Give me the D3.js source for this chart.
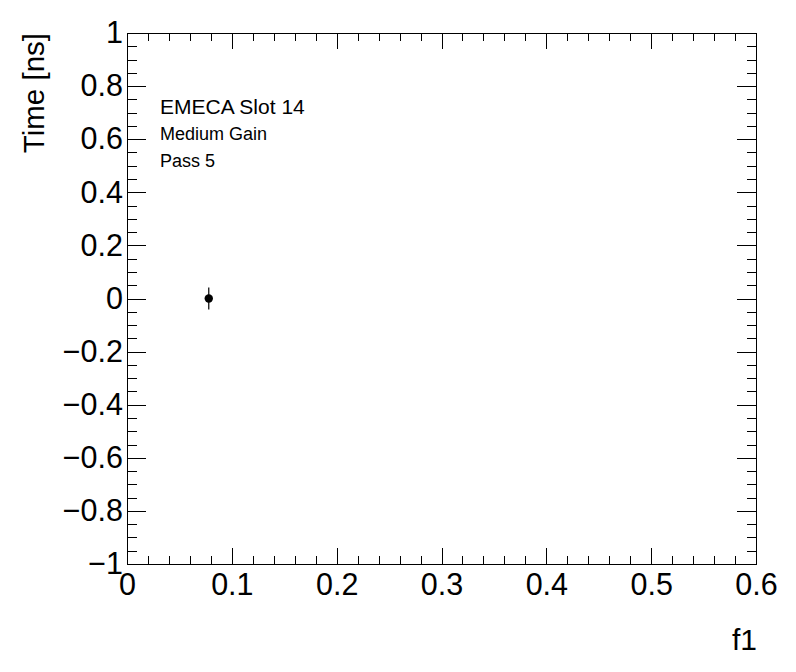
<!DOCTYPE html>
<html>
<head>
<meta charset="utf-8">
<script src="https://cdn.jsdelivr.net/npm/d3@7"></script>
<style>
  html, body { margin: 0; padding: 0; background: #fff; }
  svg { display: block; font-family: "Liberation Sans", Arial, Helvetica, sans-serif; }
</style>
</head>
<body>
<svg id="chart" width="796" height="672"></svg>
<script>
// ---- data ----
const xValues = [0.078];
const yValues = [0.0];
const yErrors = [0.041];

const xDomain = [0, 0.6];
const yDomain = [-1, 1];
const xMajorTicks = [0, 0.1, 0.2, 0.3, 0.4, 0.5, 0.6];
const xTickLabels = ["0", "0.1", "0.2", "0.3", "0.4", "0.5", "0.6"];
const yMajorTicks = [-1, -0.8, -0.6, -0.4, -0.2, 0, 0.2, 0.4, 0.6, 0.8, 1];
const yTickLabels = ["\u22121", "\u22120.8", "\u22120.6", "\u22120.4", "\u22120.2", "0", "0.2", "0.4", "0.6", "0.8", "1"];
const xMinorStep = 0.02;
const yMinorStep = 0.05;

const xTitle = "f1";
const yTitle = "Time [ns]";
const annotations = ["EMECA Slot 14", "Medium Gain", "Pass 5"];

// ---- layout ----
const svg = d3.select("#chart");
const L = 127, R = 756, T = 33, B = 564;

const x = d3.scaleLinear().domain(xDomain).range([L, R]);
const y = d3.scaleLinear().domain(yDomain).range([B, T]);

const xMinor = d3.range(Math.round((xDomain[1]-xDomain[0]) / xMinorStep) + 1).map(i => +(xDomain[0] + i * xMinorStep).toFixed(4));
const yMinor = d3.range(Math.round((yDomain[1]-yDomain[0]) / yMinorStep) + 1).map(i => +(yDomain[0] + i * yMinorStep).toFixed(4));

const xMajLen = 16, xMinLen = 8, yMajLen = 19, yMinLen = 9.5;
const labelSize = 30.5;

function styleAxis(g) {
  g.select(".domain").remove();
  g.selectAll(".tick line").attr("stroke", "#000").attr("stroke-width", 1).attr("shape-rendering", "crispEdges");
  g.selectAll(".tick text").attr("fill", "#000").attr("font-size", labelSize).attr("font-family", "\"Liberation Sans\", Arial, Helvetica, sans-serif");
}

const xLabelMap = new Map(xMajorTicks.map((v, i) => [v, xTickLabels[i]]));
const yLabelMap = new Map(yMajorTicks.map((v, i) => [v, yTickLabels[i]]));

// bottom
svg.append("g").attr("transform", `translate(0,${B})`)
  .call(d3.axisBottom(x).tickValues(xMinor).tickSize(-xMinLen).tickFormat("")).call(styleAxis);
svg.append("g").attr("transform", `translate(0,${B})`)
  .call(d3.axisBottom(x).tickValues(xMajorTicks).tickSize(-xMajLen).tickPadding(9).tickFormat(d => xLabelMap.get(d))).call(styleAxis);
// top
svg.append("g").attr("transform", `translate(0,${T})`)
  .call(d3.axisTop(x).tickValues(xMinor).tickSize(-xMinLen).tickFormat("")).call(styleAxis);
svg.append("g").attr("transform", `translate(0,${T})`)
  .call(d3.axisTop(x).tickValues(xMajorTicks).tickSize(-xMajLen).tickFormat("")).call(styleAxis);
// left
svg.append("g").attr("transform", `translate(${L},0)`)
  .call(d3.axisLeft(y).tickValues(yMinor).tickSize(-yMinLen).tickFormat("")).call(styleAxis);
svg.append("g").attr("transform", `translate(${L},0)`)
  .call(d3.axisLeft(y).tickValues(yMajorTicks).tickSize(-yMajLen).tickPadding(4).tickFormat(d => yLabelMap.get(d))).call(styleAxis);
// right
svg.append("g").attr("transform", `translate(${R},0)`)
  .call(d3.axisRight(y).tickValues(yMinor).tickSize(-yMinLen).tickFormat("")).call(styleAxis);
svg.append("g").attr("transform", `translate(${R},0)`)
  .call(d3.axisRight(y).tickValues(yMajorTicks).tickSize(-yMajLen).tickFormat("")).call(styleAxis);

// frame
svg.append("rect").attr("x", L).attr("y", T).attr("width", R - L).attr("height", B - T)
  .attr("fill", "none").attr("stroke", "#000").attr("stroke-width", 1).attr("shape-rendering", "crispEdges");

// axis titles
svg.append("text").attr("x", R + 1).attr("y", 650).attr("text-anchor", "end")
  .attr("font-size", 30).attr("fill", "#000").text(xTitle);
svg.append("text").attr("transform", `translate(44,${T}) rotate(-90)`).attr("text-anchor", "end")
  .attr("font-size", 29.5).attr("fill", "#000").text(yTitle);

// annotations
const annSizes = [21, 18, 18];
const annBase = [114, 140, 167];
annotations.forEach((t, i) => {
  svg.append("text").attr("x", 160).attr("y", annBase[i]).attr("font-size", annSizes[i])
    .attr("fill", "#000").text(t);
});

// data: error bars + markers
const pts = xValues.map((v, i) => ({ x: v, y: yValues[i], e: yErrors[i] }));
svg.append("g").selectAll("line").data(pts).join("line")
  .attr("x1", d => x(d.x)).attr("x2", d => x(d.x))
  .attr("y1", d => y(d.y - d.e)).attr("y2", d => y(d.y + d.e))
  .attr("stroke", "#000").attr("stroke-width", 1.2);
svg.append("g").selectAll("circle").data(pts).join("circle")
  .attr("cx", d => x(d.x)).attr("cy", d => y(d.y)).attr("r", 4.2).attr("fill", "#000");
</script>
</body>
</html>
